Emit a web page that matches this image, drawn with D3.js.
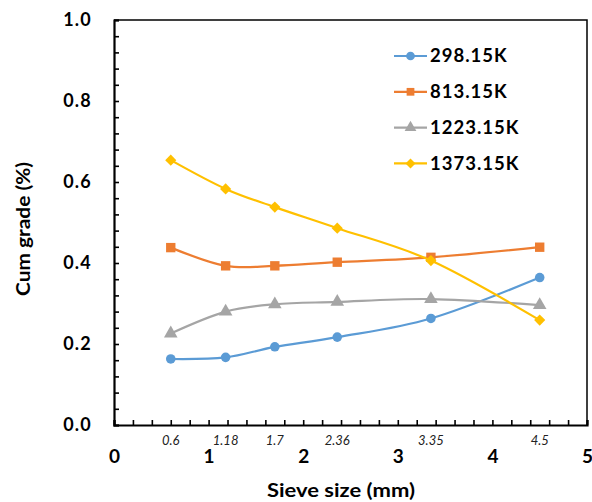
<!DOCTYPE html>
<html>
<head>
<meta charset="utf-8">
<script src="https://d3js.org/d3.v7.min.js"></script>
<style>
  body { margin: 0; background: #fff; }
  svg { font-family: Lato, "Open Sans", sans-serif; }
</style>
</head>
<body>
<svg id="chart" width="592" height="502"></svg>
<script>
// data
const sieve = [0.6, 1.18, 1.7, 2.36, 3.35, 4.5];
const seriesNames = ["298.15K", "813.15K", "1223.15K", "1373.15K"];
const t298 = [0.163, 0.167, 0.193, 0.217, 0.263, 0.364];
const t813 = [0.438, 0.393, 0.393, 0.402, 0.414, 0.439];
const t1223 = [0.226, 0.280, 0.298, 0.304, 0.311, 0.296];
const t1373 = [0.654, 0.583, 0.538, 0.486, 0.406, 0.259];
const xMajor = [0, 1, 2, 3, 4, 5];
const yMajor = [0, 0.2, 0.4, 0.6, 0.8, 1.0];

const colors = ["#5B9BD5", "#ED7D31", "#A5A5A5", "#FFC000"];
const series = [t298, t813, t1223, t1373];

const svg = d3.select("#chart");
const mLeft = 114, mRight = 587, mTop = 20, mBottom = 425;

const x = d3.scaleLinear().domain([0, 5]).range([mLeft, mRight]);
const y = d3.scaleLinear().domain([0, 1]).range([mBottom, mTop]);

// frame top/right
svg.append("path")
    .attr("d", `M${mLeft},${mTop}H${mRight}V${mBottom}`)
    .attr("fill", "none").attr("stroke", "#000").attr("stroke-width", 1.5);

// minor ticks (inside)
const xMinor = svg.append("g").attr("transform", `translate(0,${mBottom})`)
    .call(d3.axisBottom(x).tickValues(d3.range(0, 5.001, 0.2)).tickSize(-5).tickFormat(""));
const yMinor = svg.append("g").attr("transform", `translate(${mLeft},0)`)
    .call(d3.axisLeft(y).tickValues(d3.range(0, 1.001, 0.04)).tickSize(-5).tickFormat(""));
[xMinor, yMinor].forEach(g => {
  g.select(".domain").attr("stroke-width", 2.2);
  g.selectAll(".tick line").attr("stroke-width", 1.6);
});

// major labels
const yLab = svg.append("g").attr("transform", `translate(${mLeft},0)`)
    .call(d3.axisLeft(y).tickValues(yMajor).tickSize(0).tickPadding(22).tickFormat(d3.format(".1f")));
yLab.select(".domain").remove();
yLab.selectAll("text").attr("font-size", 18).attr("font-weight", "bold")
    .attr("font-family", "Lato, sans-serif").attr("fill", "#000").attr("letter-spacing", 1.2);

const xLab = svg.append("g").attr("transform", `translate(0,${mBottom})`)
    .call(d3.axisBottom(x).tickValues(xMajor).tickSize(0).tickPadding(25).tickFormat(d3.format("d")));
xLab.select(".domain").remove();
xLab.selectAll("text").attr("font-size", 19).attr("font-weight", "bold")
    .attr("font-family", "Lato, sans-serif").attr("fill", "#000");

// sieve size labels in italic
svg.append("g").selectAll("text").data(sieve).join("text")
    .attr("x", d => x(d)).attr("y", 445)
    .attr("text-anchor", "middle")
    .attr("font-size", 13).attr("font-style", "italic")
    .attr("fill", "#222")
    .text(d => d);

// axis titles
svg.append("text")
    .attr("transform", "translate(30,229) rotate(-90)")
    .attr("text-anchor", "middle")
    .attr("font-size", 18).attr("font-weight", "bold")
    .attr("textLength", 134).attr("lengthAdjust", "spacingAndGlyphs")
    .text("Cum grade (%)");
svg.append("text")
    .attr("x", 341).attr("y", 497)
    .attr("text-anchor", "middle")
    .attr("font-size", 18).attr("font-weight", "bold")
    .attr("textLength", 148).attr("lengthAdjust", "spacingAndGlyphs")
    .text("Sieve size (mm)");

// markers
const symbols = [
  d3.symbol().type(d3.symbolCircle).size(72),
  d3.symbol().type(d3.symbolSquare).size(88),
  d3.symbol().type(d3.symbolTriangle).size(80),
  d3.symbol().type(d3.symbolSquare).size(62)
];
const rot = [0, 0, 0, 45];

const line = d3.line()
    .x((d, i) => x(sieve[i]))
    .y(d => y(d))
    .curve(d3.curveCatmullRom.alpha(0));

series.forEach((vals, s) => {
  const g = svg.append("g");
  g.append("path").datum(vals)
      .attr("d", line)
      .attr("fill", "none")
      .attr("stroke", colors[s])
      .attr("stroke-width", 2.2);
  g.selectAll("path.m").data(vals).join("path")
      .attr("class", "m")
      .attr("d", symbols[s])
      .attr("transform", (d, i) => `translate(${x(sieve[i])},${y(d)}) rotate(${rot[s]})`)
      .attr("fill", colors[s]);
});

// legend
const legend = svg.append("g").attr("transform", "translate(394,56)");
const rows = legend.selectAll("g").data(seriesNames).join("g")
    .attr("transform", (d, i) => `translate(0,${i * 35.8})`);
rows.append("line")
    .attr("x1", 0).attr("x2", 33).attr("y1", 0).attr("y2", 0)
    .attr("stroke", (d, i) => colors[i]).attr("stroke-width", 2.2);
rows.append("path")
    .attr("d", (d, i) => symbols[i].size(i === 3 ? 50 : 60)())
    .attr("transform", (d, i) => `translate(16.5,0) rotate(${rot[i]})`)
    .attr("fill", (d, i) => colors[i]);
rows.append("text")
    .attr("x", 36).attr("y", 0).attr("dy", "0.35em")
    .attr("font-size", 18.5).attr("font-weight", "bold")
    .attr("letter-spacing", 1)
    .text(d => d);
</script>
</body>
</html>
